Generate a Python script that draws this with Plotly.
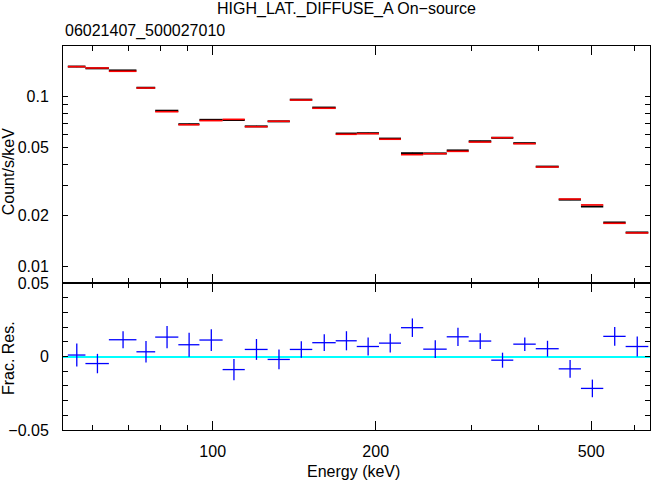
import plotly.graph_objects as go

# ---------------- data ----------------
e_lo = [54.0, 58.2, 64.3, 72.3, 78.3, 86.4, 94.5, 104.3, 114.6, 126.3, 138.8, 152.7, 168.7,
        184.5, 202.8, 222.7, 244.8, 270.5, 297.0, 326.9, 359.0, 395.0, 435.5, 478.7, 526.4, 578.9]
e_hi = [58.2, 64.3, 72.3, 78.3, 86.4, 94.5, 104.3, 114.6, 126.3, 138.8, 152.7, 168.7, 184.5,
        202.8, 222.7, 244.8, 270.5, 297.0, 326.9, 359.0, 395.0, 435.5, 478.7, 526.4, 578.9, 637.5]

rate = [0.1504, 0.1468, 0.1427, 0.1129, 0.0827, 0.0689, 0.0731, 0.0729, 0.0669, 0.0716, 0.0961,
        0.0863, 0.0607, 0.0610, 0.0567, 0.0465, 0.0464, 0.0483, 0.0547, 0.0573, 0.0533, 0.0388,
        0.0248, 0.0226, 0.0182, 0.0159]
rate_err = [0.0012, 0.0010, 0.0008, 0.0008, 0.0006, 0.0006, 0.0005, 0.0005, 0.0005, 0.0005, 0.0005,
            0.0005, 0.0004, 0.0004, 0.0004, 0.0003, 0.0003, 0.0003, 0.0003, 0.0003, 0.0002, 0.0002,
            0.00015, 0.00014, 0.00012, 0.00011]
model = [0.1502, 0.1475, 0.1411, 0.1125, 0.0816, 0.0684, 0.0723, 0.0736, 0.0666, 0.0717, 0.0956,
         0.0855, 0.0601, 0.0606, 0.0562, 0.0456, 0.0462, 0.0477, 0.0541, 0.0574, 0.0529, 0.0386,
         0.0250, 0.0231, 0.0180, 0.0158]

resid = [0.0010, -0.0048, 0.0114, 0.0032, 0.0132, 0.0080, 0.0112, -0.0089, 0.0048, -0.0020, 0.0048,
         0.0094, 0.0107, 0.0068, 0.0091, 0.0196, 0.0050, 0.0134, 0.0105, -0.0025, 0.0084, 0.0053,
         -0.0084, -0.0217, 0.0137, 0.0068]
resid_err = [0.0078, 0.0066, 0.0058, 0.0073, 0.0076, 0.0081, 0.0074, 0.0072, 0.0071, 0.0067, 0.0056,
             0.0057, 0.0065, 0.0062, 0.0064, 0.0063, 0.0060, 0.0062, 0.0054, 0.0051, 0.0046, 0.0054,
             0.0060, 0.0060, 0.0064, 0.0068]

x_major = [100, 200, 500]
x_minor = [60, 70, 80, 90, 300, 400, 600]
y_major = [0.01, 0.02, 0.05, 0.1]
y_major_text = ["0.01", "0.02", "0.05", "0.1"]
y_long = [0.01, 0.1]
y_minor = [0.03, 0.04, 0.06, 0.07, 0.08, 0.09]
r_major = [-0.05, 0, 0.05]
r_major_text = ["\u22120.05", "0", "0.05"]

title_text = "HIGH_LAT._DIFFUSE_A On\u2212source"
subtitle_text = "06021407_500027010"

# ---------------- derived ----------------
e_mid = [(a + b) / 2 for a, b in zip(e_lo, e_hi)]
ex_minus = [m - a for m, a in zip(e_mid, e_lo)]
ex_plus = [b - m for m, b in zip(e_mid, e_hi)]

mx, my = [], []
for a, b, v in zip(e_lo, e_hi, model):
    mx += [a, b, None]
    my += [v, v, None]

FONT = "Liberation Sans, Arial, Helvetica, sans-serif"

fig = go.Figure()

# data (top)
fig.add_trace(go.Scatter(
    x=e_mid, y=rate, mode="markers", marker=dict(size=0.1, color="black"),
    error_x=dict(type="data", symmetric=False, array=ex_plus, arrayminus=ex_minus,
                 color="black", thickness=2, width=0),
    error_y=dict(type="data", array=rate_err, color="black", thickness=1, width=0),
    xaxis="x2", yaxis="y2", hoverinfo="skip"))
# model (top)
fig.add_trace(go.Scatter(
    x=mx, y=my, mode="lines", line=dict(color="red", width=1.6),
    xaxis="x2", yaxis="y2", hoverinfo="skip"))
# residuals (bottom)
fig.add_trace(go.Scatter(
    x=e_mid, y=resid, mode="markers", marker=dict(size=0.1, color="blue"),
    error_x=dict(type="data", symmetric=False, array=ex_plus, arrayminus=ex_minus,
                 color="blue", thickness=1.3, width=0),
    error_y=dict(type="data", array=resid_err, color="blue", thickness=1.3, width=0),
    xaxis="x", yaxis="y", hoverinfo="skip"))

xr = [1.7235, 2.8076]
bot_dom = 0.3828

xcommon = dict(type="log", range=xr, tickmode="array", tickvals=x_major,
               ticks="inside", ticklen=9, tickcolor="black", tickwidth=1,
               minor=dict(tickmode="array", tickvals=x_minor, ticks="inside", ticklen=5,
                          tickcolor="black", tickwidth=1),
               showline=True, linecolor="black", linewidth=1, mirror="allticks",
               showgrid=False, zeroline=False,
               tickfont=dict(family=FONT, size=16, color="black"))

fig.update_layout(
    width=652, height=480,
    margin=dict(l=63, r=2, t=46, b=50),
    paper_bgcolor="white", plot_bgcolor="white",
    showlegend=False,
    font=dict(family=FONT, size=16, color="black"),
    xaxis=dict(**xcommon, anchor="y", domain=[0, 1], ticklabelstandoff=7),
    xaxis2=dict(**xcommon, anchor="y2", domain=[0, 1], matches="x", showticklabels=False),
    yaxis=dict(domain=[0, bot_dom], anchor="x", range=[-0.05, 0.05],
               tickmode="array", tickvals=r_major, ticktext=r_major_text,
               ticks="inside", ticklen=5, tickcolor="black",
               minor=dict(dtick=0.01, ticks="inside", ticklen=5, tickcolor="black"),
               showline=True, linecolor="black", linewidth=1, mirror="allticks",
               showgrid=False, zeroline=True, zerolinecolor="#00ffff", zerolinewidth=2,
               tickfont=dict(family=FONT, size=16, color="black"), ticklabelstandoff=10),
    yaxis2=dict(domain=[bot_dom, 1], anchor="x2", type="log", range=[-2.0959, -0.7018],
                tickmode="array", tickvals=y_major, ticktext=y_major_text,
                ticks="inside", ticklen=5, tickcolor="black",
                minor=dict(tickmode="array", tickvals=y_minor, ticks="inside", ticklen=5,
                           tickcolor="black"),
                showline=True, linecolor="black", linewidth=1, mirror="allticks",
                showgrid=False, zeroline=False,
                tickfont=dict(family=FONT, size=16, color="black"), ticklabelstandoff=10),
    yaxis3=dict(overlaying="y2", anchor="x2", type="log", range=[-2.0959, -0.7018],
                tickmode="array", tickvals=y_long, ticks="inside", ticklen=9,
                tickcolor="black", showticklabels=False,
                showline=True, linecolor="black", linewidth=1, mirror="allticks",
                showgrid=False, zeroline=False),
    annotations=[
        dict(text=title_text, xref="paper", yref="paper", x=0.4835, y=1.0965,
             xanchor="center", yanchor="middle", showarrow=False,
             font=dict(family=FONT, size=16, color="black")),
        dict(text=subtitle_text, xref="paper", yref="paper", x=0.0, y=1.039,
             xanchor="left", yanchor="middle", showarrow=False,
             font=dict(family=FONT, size=16, color="black")),
        dict(text="Count/s/keV", xref="paper", yref="paper", x=-0.0915, y=0.672,
             xanchor="center", yanchor="middle", textangle=-90, showarrow=False,
             font=dict(family=FONT, size=16, color="black")),
        dict(text="Frac. Res.", xref="paper", yref="paper", x=-0.0915, y=0.188,
             xanchor="center", yanchor="middle", textangle=-90, showarrow=False,
             font=dict(family=FONT, size=16, color="black")),
        dict(text="Energy (keV)", xref="paper", yref="paper", x=0.4955, y=-0.108,
             xanchor="center", yanchor="middle", showarrow=False,
             font=dict(family=FONT, size=16, color="black")),
    ],
)

fig.write_html("out.html")
